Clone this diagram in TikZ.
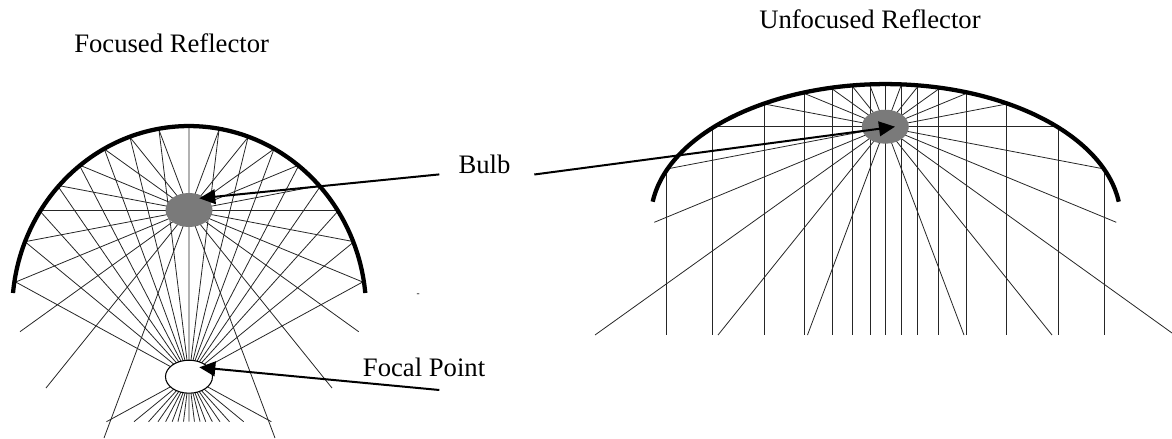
\documentclass[tikz,border=0pt]{standalone}
\usepackage{fontspec}
\setmainfont{Liberation Serif}
\usetikzlibrary{arrows.meta,calc,intersections,shapes.geometric}
\tikzset{
  ray/.style={line width=0.6pt,black!85},
  reflector/.style={line width=3.2pt,black},
  pointer/.style={line width=1.5pt,-{Triangle[length=12pt,width=11pt]}},
  lamp/.style={ellipse,fill=black!52,minimum width=47*0.75pt,minimum height=34*0.75pt,inner sep=0pt},
  label/.style={inner sep=0pt,anchor=base west,font=\fontsize{20}{24}\selectfont},
}
\begin{document}
\begin{tikzpicture}[x=0.75pt,y=-0.75pt]
\useasboundingbox (0,0) rectangle (1172,439);
% ---- focused reflector
\coordinate (BL) at (189,210);
\coordinate (FL) at (189,376.7);
\coordinate (ga) at (0,421.7);
\coordinate (gb) at (400,421.7);
\foreach \n/\x/\y in {
  a/15.7/282, b/25/241.7, c/39/210, d/57.3/185.3, e/79.3/165, f/104.3/149, g/130/137.3, h/159/130,
  i/189/126.7,
  j/219/130, k/248/137.3, l/274/149, m/299/165, n/321/185.3, o/339/210, p/354/241.7, q/362.7/282}{
  \coordinate (r\n) at (\x,\y);
  \draw[ray] (r\n) -- (intersection of r\n--FL and ga--gb);
}
\coordinate (e1) at (358.7,331.7);
\coordinate (e2) at (332,388);
\coordinate (e3) at (275,438);
\coordinate (e4) at (104,438);
\coordinate (e5) at (46,388);
\coordinate (e6) at (20,331.7);
\draw[ray] (rf) -- (e1);
\draw[ray] (rg) -- (e2);
\draw[ray] (rh) -- (e3);
\draw[ray] (rj) -- (e4);
\draw[ray] (rk) -- (e5);
\draw[ray] (rl) -- (e6);
\draw[ray] (ra) -- (rm);
\draw[ray] (rq) -- (re);
\draw[ray] (rb) -- (rn);
\draw[ray] (rp) -- (rd);
\draw[ray] (rc) -- (ro);
\coordinate (LS) at (13,293);
\draw[reflector] (LS) arc[start angle=-174.4,end angle=-5.6,x radius=177,y radius=185];
\node[lamp] (bulbL) at (BL) {};
\node[ellipse,draw,line width=0.8pt,fill=white,minimum width=47*0.75pt,minimum height=33*0.75pt,inner sep=0pt] (focus) at (FL) {};
% ---- unfocused reflector
\coordinate (BR) at (885.3,126.7);
\foreach \n/\x/\y in {
  a/666.7/169, b/712.3/126.7, c/764.3/104, d/804/93.3, e/832.3/89, f/852.7/86.7, g/870/85.7,
  h/885.5/84.5,
  i/901/85.7, j/917.7/86.7, k/938.7/89, l/966.7/93.3, m/1006.7/104, n/1058.3/126.7, o/1104.3/169}{
  \coordinate (s\n) at (\x,\y);
  \coordinate (v\n) at (\x,335);
  \draw[ray] (s\n) -- (v\n);
}
\coordinate (t1) at (1116.3,222.3);
\coordinate (t2) at (1172,333);
\coordinate (t3) at (1052,335);
\coordinate (t4) at (964,335);
\coordinate (t5) at (807.5,335);
\coordinate (t6) at (718,335);
\coordinate (t7) at (595,335);
\coordinate (t8) at (654.3,222.3);
\draw[ray] (sd) -- (t1);
\draw[ray] (se) -- (t2);
\draw[ray] (sf) -- (t3);
\draw[ray] (sg) -- (t4);
\draw[ray] (si) -- (t5);
\draw[ray] (sj) -- (t6);
\draw[ray] (sk) -- (t7);
\draw[ray] (sl) -- (t8);
\draw[ray] (sa) -- (sm);
\draw[ray] (so) -- (sc);
\draw[ray] (sb) -- (sn);
\coordinate (RS) at (652.7,201.7);
\draw[reflector] (RS) arc[start angle=-172.6,end angle=-7.4,x radius=235,y radius=135];
\node[lamp] (bulbR) at (BR) {};
% ---- labels
\node[label] (t-foc) at (74,52.3) {Focused Reflector};
\node[label] (t-unf) at (759,28.3) {Unfocused Reflector};
\node[label] (t-bulb) at (458.3,173.3) {Bulb};
\node[label] (t-fp) at (362.7,376.7) {Focal Point};
\node[inner sep=0pt,font=\fontsize{7}{8}\selectfont] (t-dash) at (418.3,295) {-};
% ---- pointers
\coordinate (p1) at (439.3,174.4);
\coordinate (p2) at (534.3,174.5);
\coordinate (p3) at (439.3,390);
\coordinate (q1) at (199.3,198.3);
\coordinate (q2) at (895,126.7);
\coordinate (q3) at (199.3,367.3);
\draw[pointer] (p1) -- (q1);
\draw[pointer] (p2) -- (q2);
\draw[pointer] (p3) -- (q3);
\end{tikzpicture}
\end{document}
